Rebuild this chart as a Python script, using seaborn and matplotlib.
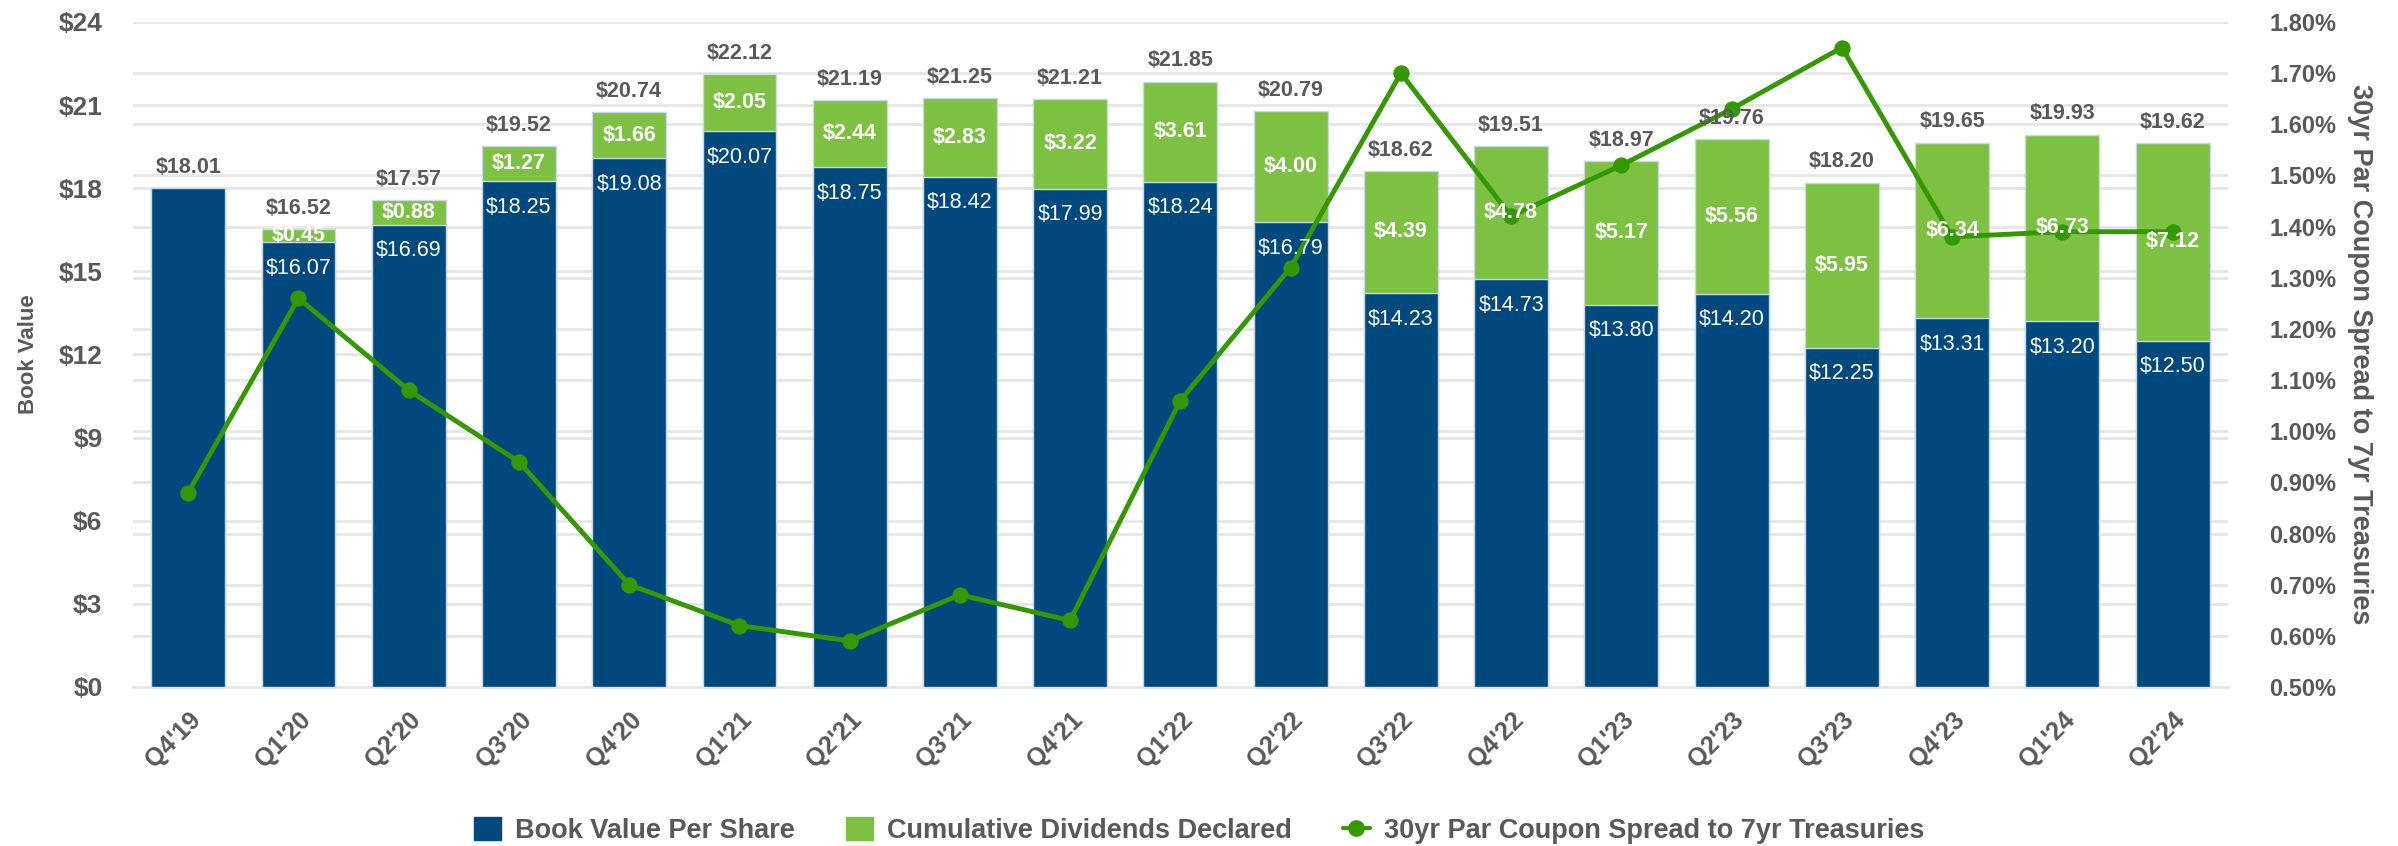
import numpy as np
import pandas as pd
import matplotlib
matplotlib.use("Agg")
import matplotlib.pyplot as plt
import seaborn as sns
from matplotlib.patches import Patch
from matplotlib.lines import Line2D

quarters = ["Q4'19", "Q1'20", "Q2'20", "Q3'20", "Q4'20", "Q1'21", "Q2'21", "Q3'21",
            "Q4'21", "Q1'22", "Q2'22", "Q3'22", "Q4'22", "Q1'23", "Q2'23", "Q3'23",
            "Q4'23", "Q1'24", "Q2'24"]
book_value = [18.01, 16.07, 16.69, 18.25, 19.08, 20.07, 18.75, 18.42, 17.99, 18.24,
              16.79, 14.23, 14.73, 13.80, 14.20, 12.25, 13.31, 13.20, 12.50]
cum_divs = [0.00, 0.45, 0.88, 1.27, 1.66, 2.05, 2.44, 2.83, 3.22, 3.61,
            4.00, 4.39, 4.78, 5.17, 5.56, 5.95, 6.34, 6.73, 7.12]
totals = [18.01, 16.52, 17.57, 19.52, 20.74, 22.12, 21.19, 21.25, 21.21, 21.85,
          20.79, 18.62, 19.51, 18.97, 19.76, 18.20, 19.65, 19.93, 19.62]
spread = [0.88, 1.26, 1.08, 0.94, 0.70, 0.62, 0.59, 0.68, 0.63, 1.06,
          1.32, 1.70, 1.42, 1.52, 1.63, 1.75, 1.38, 1.39, 1.39]

NAVY = "#00497E"
GREEN = "#7DC142"
LINE = "#339900"
GREY = "#595959"
GRID = "#E6E6E6"
EDGE = "#C9D8E6"

df = pd.DataFrame({"quarter": quarters, "book": book_value, "div": cum_divs,
                   "total": totals, "spread": spread})
df["stack"] = df["book"] + df["div"]

sns.set_style("white")
plt.rcParams["font.family"] = ["Liberation Sans", "DejaVu Sans"]

fig, ax = plt.subplots(figsize=(23.98, 8.46), dpi=100)
fig.subplots_adjust(left=0.0555, right=0.929, top=0.974, bottom=0.188)

# gridlines for both axes, kept behind the bars
left_ticks = np.arange(0, 25, 3)
right_ticks = np.round(np.arange(0.5, 1.81, 0.1), 2)
for t in left_ticks:
    ax.axhline(t, color=GRID, lw=2, zorder=0)
for t in right_ticks:
    ax.axhline((t - 0.5) / 1.3 * 24, color=GRID, lw=2, zorder=0)

sns.barplot(data=df, x="quarter", y="stack", color=GREEN, width=0.67, saturation=1,
            edgecolor=EDGE, linewidth=1, ax=ax, zorder=2)
sns.barplot(data=df, x="quarter", y="book", color=NAVY, width=0.67, saturation=1,
            edgecolor=EDGE, linewidth=1, ax=ax, zorder=3)

ax.set_ylim(0, 24)
ax.set_xlim(-0.5, len(quarters) - 0.5)
ax.set_yticks(left_ticks)
ax.set_yticklabels([f"${t}" for t in left_ticks], fontsize=19, fontweight="bold", color=GREY)
ax.set_xlabel("")
ax.set_ylabel("Book Value", fontsize=16, fontweight="bold", color=GREY, labelpad=14)
ax.tick_params(axis="y", length=0, pad=22)
ax.tick_params(axis="x", length=9, width=1.5, color="#999999", pad=6)
plt.setp(ax.get_xticklabels(), rotation=45, ha="right", rotation_mode="anchor",
         fontsize=18, fontweight="bold", color=GREY)
for s in ["top", "right", "left"]:
    ax.spines[s].set_visible(False)
ax.spines["bottom"].set_color(GRID)
ax.spines["bottom"].set_linewidth(2)

ax2 = ax.twinx()
sns.lineplot(x=np.arange(len(quarters)), y=df["spread"], color=LINE, lw=3.5,
             marker="o", markersize=11, markeredgecolor=LINE, ax=ax2, zorder=2)
ax2.set_ylim(0.5, 1.8)
ax2.set_yticks(right_ticks)
ax2.set_yticklabels([f"{t:.2f}%" for t in right_ticks], fontsize=17, fontweight="bold", color=GREY)
ax2.tick_params(axis="y", length=0, pad=30)
ax2.set_ylabel("30yr Par Coupon Spread to 7yr Treasuries", rotation=270, labelpad=26,
               fontsize=19.5, fontweight="bold", color=GREY)
for s in ax2.spines.values():
    s.set_visible(False)
ax2.grid(False)

# value labels sit on ax2 (above the line) but use the bar axis coordinates
for i, row in df.iterrows():
    ax2.annotate(f"${row['total']:.2f}", (i, row["stack"]), xycoords=ax.transData,
                 xytext=(0, 15), textcoords="offset points", ha="center", va="center",
                 fontsize=15.5, fontweight="bold", color=GREY, zorder=5)
    if row["div"] > 0:
        ax2.text(i, row["book"] - 0.95, f"${row['book']:.2f}", transform=ax.transData,
                 ha="center", va="center", fontsize=15.5, color="white", zorder=5)
        ax2.text(i, row["book"] + row["div"] / 2, f"${row['div']:.2f}",
                 transform=ax.transData, ha="center", va="center", fontsize=15.5,
                 fontweight="bold", color="white", zorder=5)

handles = [Patch(color=NAVY), Patch(color=GREEN),
           Line2D([], [], color=LINE, lw=3, marker="o", markersize=11)]
labels = ["Book Value Per Share", "Cumulative Dividends Declared",
          "30yr Par Coupon Spread to 7yr Treasuries"]
fig.legend(handles, labels, loc="center", bbox_to_anchor=(0.5, 0.018), ncol=3,
           frameon=False, handlelength=1.0, handleheight=0.9, handletextpad=0.5,
           columnspacing=1.9, prop={"size": 19.5, "weight": "bold"}, labelcolor=GREY)

fig.savefig("out.png", dpi=100)
